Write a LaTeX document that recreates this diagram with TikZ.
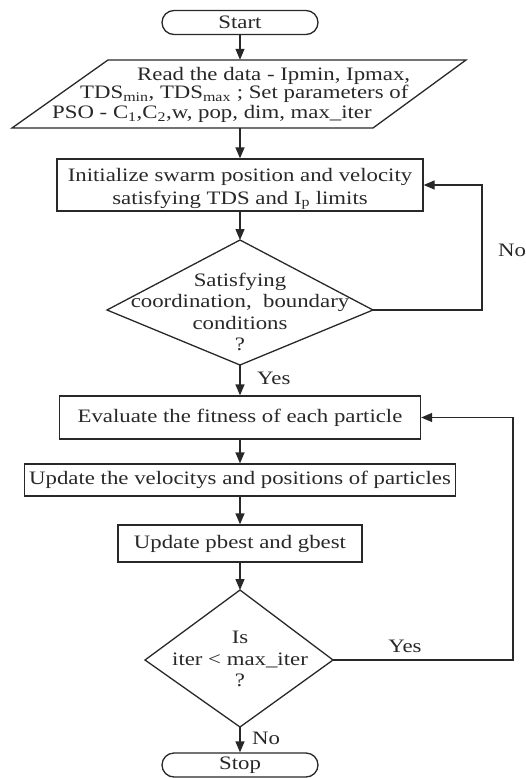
\documentclass[tikz,border=0pt]{standalone}
\usepackage{fontspec}
\setmainfont{Liberation Serif}[FakeStretch=1.2]
\usetikzlibrary{arrows.meta}
\definecolor{ink}{RGB}{40,40,40}
\begin{document}
\begin{tikzpicture}[x=1pt,y=-1pt,
  line/.style={draw=ink,line width=1.3pt},
  arr/.style={line,-{Triangle[length=11pt,width=9pt]}},
  txt/.style={font=\fontsize{19}{23}\selectfont,text=ink,inner sep=0pt,align=center},
  term/.style={line,txt,rounded corners=12pt,minimum width=156pt,minimum height=24pt},
  proc/.style={line,txt}
]
\useasboundingbox (0,0) rectangle (525,778);

% terminals and process boxes
\node[term] (start) at (240,22.5) {Start};
\node[inner sep=0pt,minimum width=260pt,minimum height=68pt] (read) at (240,94) {};
\coordinate (pa) at (108,60);
\coordinate (pb) at (466,60);
\coordinate (pc) at (373,128);
\coordinate (pd) at (12,128);
\draw[line] (pa) -- (pb) -- (pc) -- (pd) -- cycle;
\node[txt,anchor=base west,text depth=3pt] (r1) at (137,81) {Read the data - Ipmin, Ipmax,};
\node[txt,anchor=base west,text depth=3pt] (r2) at (80,99) {TDS\textsubscript{min}, TDS\textsubscript{max} ; Set parameters of};
\node[txt,anchor=base west,text height=11pt,text depth=3pt] (r3) at (52,119) {PSO - C\textsubscript{1},C\textsubscript{2},w, pop, dim, max\_iter};

\node[proc,minimum width=366pt,minimum height=52pt] (init) at (240,185) {};
\node[txt] (inittxt) at (240,189)
  {Initialize swarm position and velocity\\satisfying TDS and I\textsubscript{p} limits};

% decision 1
\coordinate (d1t) at (240,240);
\coordinate (d1l) at (107,310);
\coordinate (d1r) at (373,310);
\coordinate (d1b) at (240,365);
\draw[line] (d1t) -- (d1r) -- (d1b) -- (d1l) -- cycle;
\node[txt,font=\fontsize{19}{21.5}\selectfont] (d1txt) at (240,312)
  {Satisfying\\coordination,\ \ boundary\\conditions\\?};

\node[proc,minimum width=361pt,minimum height=43pt] (eval) at (240,417.5)
  {Evaluate the fitness of each particle};
\node[proc,minimum width=431pt,minimum height=32pt] (upd) at (240,480)
  {Update the velocitys and positions of particles};
\node[proc,minimum width=244pt,minimum height=37pt] (pb) at (240,543.5)
  {Update pbest and gbest};

% decision 2
\coordinate (d2t) at (240,590);
\coordinate (d2l) at (145,660);
\coordinate (d2r) at (333,660);
\coordinate (d2b) at (240,727);
\draw[line] (d2t) -- (d2r) -- (d2b) -- (d2l) -- cycle;
\node[txt,font=\fontsize{19}{21.5}\selectfont] (d2txt) at (240,659)
  {Is\\iter < max\_iter\\?};

\node[term] (stop) at (240,765) {Stop};

% connectors
\draw[arr] (start.south) -- (read.north);
\draw[arr] (read.south) -- (init.north);
\draw[arr] (init.south) -- (d1t);
\draw[arr] (d1b) -- (eval.north);
\draw[arr] (eval.south) -- (upd.north);
\draw[arr] (upd.south) -- (pb.north);
\draw[arr] (pb.south) -- (d2t);
\draw[arr] (d2b) -- (stop.north);

\coordinate (noc) at (482,310);
\draw[arr] (d1r) -- (noc) |- (init.east);
\coordinate (yesc) at (513,660);
\draw[arr] (d2r) -- (yesc) |- (eval.east);

% labels
\node[txt,anchor=west] (lno1) at (498,250) {No};
\node[txt,anchor=west] (lyes1) at (257,378) {Yes};
\node[txt] (lyes2) at (405,646) {Yes};
\node[txt,anchor=west] (lno2) at (252,738) {No};
\end{tikzpicture}
\end{document}
